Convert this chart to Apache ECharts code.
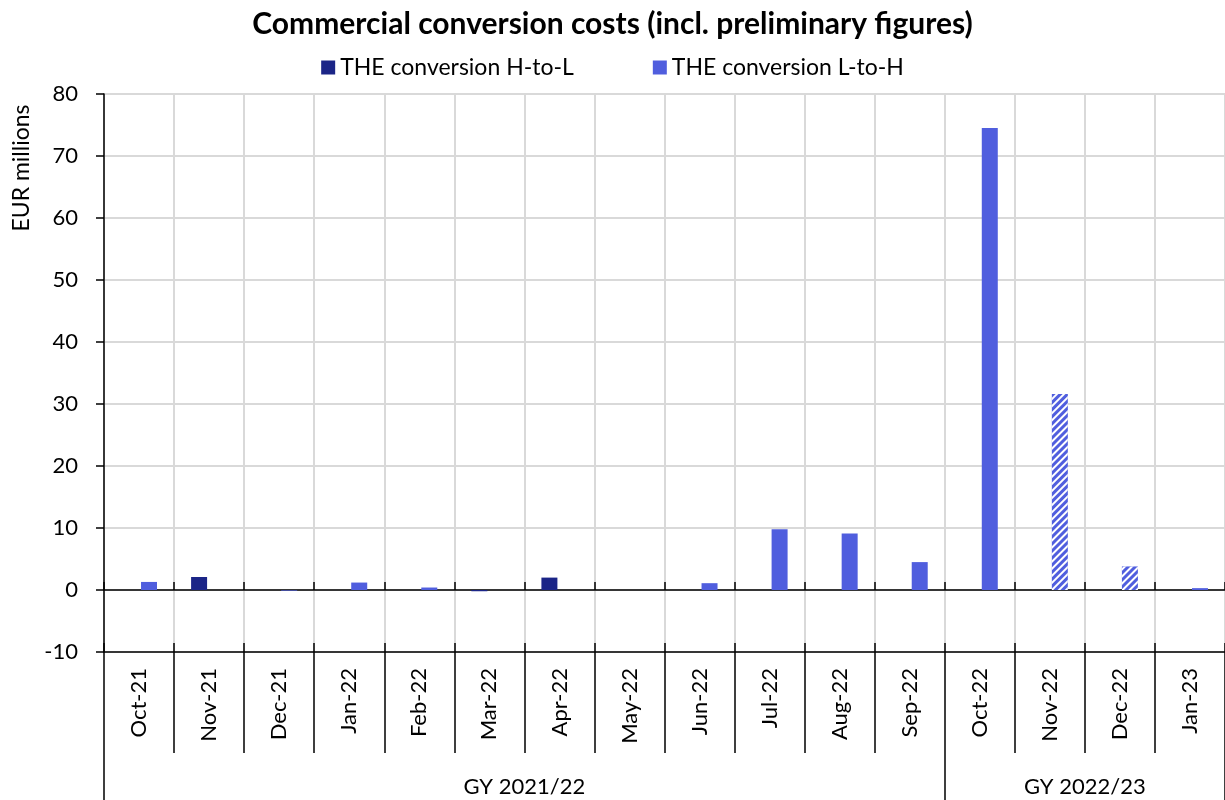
<!DOCTYPE html>
<html>
<head>
<meta charset="utf-8">
<script src="https://cdn.jsdelivr.net/npm/echarts@6/dist/echarts.min.js"></script>
<style>html,body{margin:0;padding:0;background:#fff}#c{width:1225px;height:800px}</style>
</head>
<body>
<div id="c"></div>
<script>
const categories = ['Oct-21','Nov-21','Dec-21','Jan-22','Feb-22','Mar-22','Apr-22','May-22','Jun-22','Jul-22','Aug-22','Sep-22','Oct-22','Nov-22','Dec-22','Jan-23'];
const hToL = [null, 2.1, null, null, null, -0.2, 2.0, null, null, null, null, null, null, null, null, null];
const lToH = [1.3, null, -0.1, 1.2, 0.4, null, null, null, 1.1, 9.8, 9.1, 4.5, 74.5, 31.6, 3.8, 0.3];
const preliminary = [false,false,false,false,false,false,false,false,false,false,false,false,false,true,true,false];
const groups = ['GY 2021/22', 'GY 2022/23'];
const groupSizes = [12, 4];
const yTicks = { min: -10, max: 80, interval: 10 };
const seriesNames = ['THE conversion H-to-L', 'THE conversion L-to-H'];

const FONT = 'Lato';
const cH = '#1B2587', cL = '#505EDE', grid = '#d9d9d9';

// group boundaries & centers on a 0..N value scale
const bounds = [0];
groupSizes.forEach(s => bounds.push(bounds[bounds.length - 1] + s));
const centers = groups.map((g, i) => (bounds[i] + bounds[i + 1]) / 2);

const chart = echarts.init(document.getElementById('c'));
chart.setOption({
  animation: false,
  title: {
    text: 'Commercial conversion costs (incl. preliminary figures)',
    left: 'center', top: 4,
    textStyle: { fontFamily: FONT, fontWeight: 'bold', fontSize: 30, color: '#000' }
  },
  legend: {
    top: 51, left: 'center', icon: 'rect', itemWidth: 14, itemHeight: 14, itemGap: 79,
    textStyle: { fontFamily: FONT, fontSize: 23, color: '#000' },
    data: seriesNames
  },
  graphic: [{
    type: 'text', x: 22, y: 168, rotation: Math.PI / 2,
    style: { text: 'EUR millions', fontFamily: FONT, fontSize: 23, fill: '#000', align: 'center', verticalAlign: 'middle' }
  }],
  grid: { left: 104, top: 94, width: 1123, height: 558, containLabel: false },
  yAxis: {
    type: 'value', min: yTicks.min, max: yTicks.max, interval: yTicks.interval,
    axisLine: { show: true, lineStyle: { color: '#000', width: 1.5 } },
    axisTick: { show: true, length: 8, lineStyle: { color: '#000', width: 1.5 } },
    axisLabel: { fontFamily: FONT, fontSize: 22, color: '#000', margin: 26 },
    splitLine: { show: true, lineStyle: { color: grid, width: 2 } }
  },
  xAxis: [
    {
      type: 'category', data: categories, position: 'bottom',
      axisLine: { show: true, onZero: true, lineStyle: { color: '#000', width: 1.5 } },
      axisTick: { show: true, inside: true, length: 8, lineStyle: { color: '#000', width: 1.5 } },
      axisLabel: { show: false },
      splitLine: { show: true, lineStyle: { color: grid, width: 2 } }
    },
    {
      type: 'category', data: categories, position: 'bottom',
      axisLine: { show: true, onZero: true, lineStyle: { color: '#000', width: 1.5 } },
      axisTick: { show: true, length: 8, lineStyle: { color: '#000', width: 1.5 } },
      axisLabel: { show: false },
      splitLine: { show: false }
    },
    {
      type: 'category', data: categories, position: 'bottom', offset: -9,
      axisLine: { show: false, onZero: false },
      axisTick: { show: true, length: 110, lineStyle: { color: '#000', width: 1.5 } },
      axisLabel: { show: true, interval: 0, rotate: 90, margin: 25,
        fontFamily: FONT, fontSize: 22, color: '#000' },
      splitLine: { show: false }
    },
    {
      type: 'value', min: 0, max: categories.length, position: 'bottom', offset: 101,
      axisLine: { show: false, onZero: false },
      axisTick: { show: true, length: 47, customValues: bounds, lineStyle: { color: '#000', width: 1.5 } },
      axisLabel: { show: true, customValues: centers, margin: 23,
        formatter: v => { const i = centers.indexOf(v); return i >= 0 ? groups[i] : ''; },
        fontFamily: FONT, fontSize: 22, color: '#000' },
      splitLine: { show: false }
    }
  ],
  series: [
    {
      name: seriesNames[0], type: 'bar', xAxisIndex: 0, barWidth: 16, barGap: '25%',
      itemStyle: { color: cH },
      data: hToL
    },
    {
      name: seriesNames[1], type: 'bar', xAxisIndex: 0, barWidth: 16, barGap: '25%',
      itemStyle: { color: cL },
      data: lToH.map((v, i) => preliminary[i] ? {
        value: v,
        itemStyle: { color: cL, decal: { symbol: 'rect', color: '#ffffff', dashArrayX: [1, 0], dashArrayY: [2, 2.5], rotation: -Math.PI / 4 } }
      } : v)
    }
  ]
});
</script>
</body>
</html>
